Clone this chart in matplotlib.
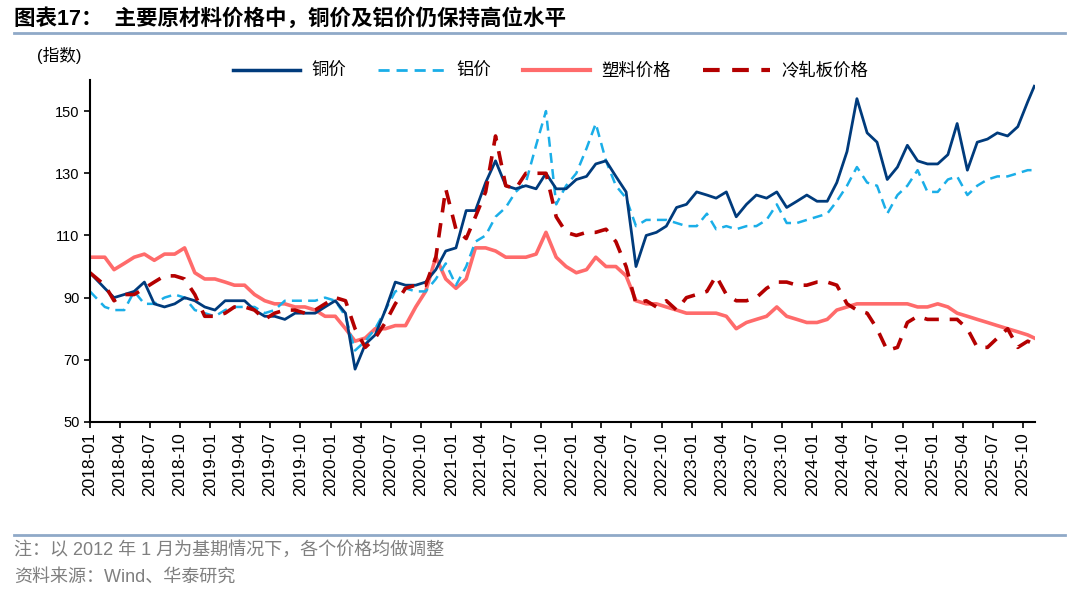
import pandas as pd
import matplotlib.pyplot as plt
import matplotlib.dates as mdates
from matplotlib.lines import Line2D

plt.rcParams['font.family'] = ['Liberation Sans', 'Noto Sans CJK SC', 'DejaVu Sans']
plt.rcParams['axes.unicode_minus'] = False

# 日期：起点、2018-02 到 2025-10 的月中、终点
months = pd.date_range('2018-02-01', '2025-10-01', freq='MS') + pd.Timedelta(days=14)
dates = [pd.Timestamp('2018-01-01')] + list(months) + [pd.Timestamp('2025-11-04')]

copper = [98,
          93, 90, 91, 92, 95, 88, 87, 88, 90, 89, 87,
          86, 89, 89, 89, 86, 84, 84, 83, 85, 85, 85, 87,
          89, 85, 67, 75, 78, 86, 95, 94, 94, 95, 99, 105,
          106, 118, 118, 127, 134, 126, 125, 126, 125, 130, 125, 125,
          128, 129, 133, 134, 129, 124, 100, 110, 111, 113, 119, 120,
          124, 123, 122, 124, 116, 120, 123, 122, 124, 119, 121, 123,
          121, 121, 127, 137, 154, 143, 140, 128, 132, 139, 134, 133,
          133, 136, 146, 131, 140, 141, 143, 142, 145, 153,
          158]
aluminum = [92,
            87, 86, 86, 92, 88, 88, 90, 91, 90, 86, 85,
            84, 86, 87, 87, 87, 85, 86, 89, 89, 89, 89, 90,
            89, 84, 73, 76, 80, 86, 92, 93, 92, 92, 96, 101,
            94, 100, 108, 110, 116, 119, 124, 127, 139, 150, 120, 126,
            130, 138, 146, 134, 126, 122, 113, 115, 115, 115, 114, 113,
            113, 117, 112, 113, 112, 113, 113, 115, 120, 114, 114, 115,
            116, 117, 121, 126, 132, 127, 126, 117, 123, 126, 131, 124,
            124, 128, 129, 123, 126, 128, 129, 129, 130, 131,
            131]
plastic = [103,
           103, 99, 101, 103, 104, 102, 104, 104, 106, 98, 96,
           96, 95, 94, 94, 91, 89, 88, 88, 87, 87, 86, 84,
           84, 80, 76, 77, 80, 80, 81, 81, 87, 92, 103, 96,
           93, 96, 106, 106, 105, 103, 103, 103, 104, 111, 103, 100,
           98, 99, 103, 100, 100, 97, 89, 88, 88, 87, 86, 85,
           85, 85, 85, 84, 80, 82, 83, 84, 87, 84, 83, 82,
           82, 83, 86, 87, 88, 88, 88, 88, 88, 88, 87, 87,
           88, 87, 85, 84, 83, 82, 81, 80, 79, 78,
           77]
cold_rolled = [98,
               94, 89, 91, 91, 93, 95, 97, 97, 96, 91, 84,
               84, 85, 87, 87, 86, 83, 85, 86, 86, 85, 86, 88,
               90, 89, 80, 74, 77, 82, 88, 93, 94, 94, 103, 125,
               112, 109, 116, 124, 142, 126, 125, 130, 130, 130, 116, 111,
               110, 111, 111, 112, 108, 100, 88, 89, 87, 89, 86, 90,
               91, 92, 97, 91, 89, 89, 90, 93, 95, 95, 94, 94,
               95, 95, 94, 88, 86, 85, 80, 73, 74, 82, 84, 83,
               83, 83, 83, 80, 74, 74, 77, 80, 74, 76,
               75]

names = ['铜价', '铝价', '塑料价格', '冷轧板价格']
colors = ['#003B7C', '#1AAEE8', '#FF6B6B', '#B40000']

fig = plt.figure(figsize=(10.8, 5.94), dpi=100)
ax = fig.add_axes([0.0833, 0.2896, 0.875, 0.5757])

ax.plot(dates, plastic, color=colors[2], lw=2.6)
ax.plot(dates, aluminum, color=colors[1], lw=1.8, ls=(0, (4, 2.5)))
ax.plot(dates, copper, color=colors[0], lw=2.0)
ax.plot(dates, cold_rolled, color=colors[3], lw=2.6, ls=(0, (4, 3)))

ax.set_xlim(pd.Timestamp('2018-01-01'), pd.Timestamp('2025-11-06'))
ax.set_ylim(50, 160)
ax.set_yticks([50, 70, 90, 110, 130, 150])
ax.xaxis.set_major_locator(mdates.MonthLocator(bymonth=[1, 4, 7, 10]))
ax.xaxis.set_major_formatter(mdates.DateFormatter('%Y-%m'))
ax.tick_params(axis='x', labelrotation=90, labelsize=12.5, direction='out', length=4, width=1.2)
ax.tick_params(axis='y', labelsize=10.5, direction='out', length=4, width=1.2)
for side in ['top', 'right']:
    ax.spines[side].set_visible(False)
for side in ['left', 'bottom']:
    ax.spines[side].set_linewidth(1.5)

# 图例
handles = [Line2D([], [], color=colors[0], lw=2.5),
           Line2D([], [], color=colors[1], lw=2.0, ls=(0, (4, 2.5))),
           Line2D([], [], color=colors[2], lw=3.0),
           Line2D([], [], color=colors[3], lw=3.0, ls=(0, (4, 3)))]
fig.legend(handles, names, loc='center', bbox_to_anchor=(0.51, 0.882), ncol=4,
           frameon=False, fontsize=12.5, handlelength=3.85, handletextpad=0.65,
           columnspacing=1.85)

# 标题和注释
fig.text(0.013, 0.968, '图表17：  主要原材料价格中，铜价及铝价仍保持高位水平',
         fontsize=15.5, fontweight='bold', va='center', ha='left')
fig.add_artist(Line2D([0.013, 0.986], [0.944, 0.944], color='#8FA9C8', lw=2))
fig.text(0.034, 0.907, '(指数)', fontsize=12, va='center', ha='left')
fig.add_artist(Line2D([0.013, 0.986], [0.099, 0.099], color='#8FA9C8', lw=2))
fig.text(0.013, 0.075, '注：以 2012 年 1 月为基期情况下，各个价格均做调整',
         fontsize=13, color='#7F7F7F', va='center', ha='left')
fig.text(0.013, 0.028, '资料来源：Wind、华泰研究',
         fontsize=13, color='#7F7F7F', va='center', ha='left')

fig.savefig('out.png', dpi=100)
